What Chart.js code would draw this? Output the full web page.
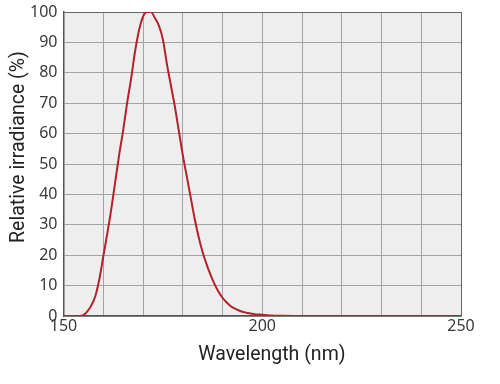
<!DOCTYPE html>
<html>
<head>
<meta charset="utf-8">
<script src="https://cdn.jsdelivr.net/npm/chart.js@4/dist/chart.umd.min.js"></script>
<style>
  html, body { margin: 0; padding: 0; background: #fff; }
  #wrap { width: 500px; height: 384px; }
</style>
</head>
<body>
<div id="wrap"><canvas id="irrChart" width="500" height="384"></canvas></div>
<script>
// wavelength (nm) and relative irradiance (%)
const wavelengths = [150, 152, 154, 155, 156, 157, 158, 159, 160, 161, 162, 163, 164, 165, 166, 167, 168, 169, 170, 171,
    172, 173, 174, 175, 176, 177, 178, 179, 180, 181, 182, 183, 184, 185, 186, 187, 188, 189, 190, 191,
    192, 193, 194, 195, 196, 197, 198, 200, 202, 205, 210, 250];
const irradiance = [0, 0, 0, 0.3, 1.5, 3.5, 6.5, 12, 19.5, 27, 35, 44, 53, 61, 70, 78, 87, 94, 98.5, 100,
    100, 98, 95.5, 91, 83, 76, 69, 61, 53, 46, 39, 32, 26, 21, 17, 13.5, 10.5, 8, 6, 4.5,
    3.3, 2.5, 1.9, 1.4, 1.1, 0.8, 0.6, 0.4, 0.2, 0.05, 0, 0];
const xLabels = [150, 200, 250];

const tickFont = { family: 'Noto Sans', size: 16 };
const titleFont = { family: 'Roboto', size: 19.5 };

// grey plot background
const plotBg = {
    id: 'plotBg',
    beforeDraw(chart) {
        const { ctx, chartArea: a } = chart;
        ctx.save();
        ctx.fillStyle = '#eeeeee';
        ctx.fillRect(a.left, a.top, a.right - a.left, a.bottom - a.top);
        ctx.restore();
    }
};

new Chart(document.getElementById('irrChart'), {
    type: 'line',
    data: {
        datasets: [{
            data: wavelengths.map((w, i) => ({ x: w, y: irradiance[i] })),
            borderColor: '#b3202e',
            borderWidth: 2,
            pointRadius: 0,
            tension: 0.4,
            cubicInterpolationMode: 'monotone',
            fill: false
        }]
    },
    options: {
        responsive: false,
        animation: false,
        layout: { padding: { left: 0, right: 39, top: 12, bottom: 0 } },
        plugins: {
            legend: { display: false },
            tooltip: { enabled: false }
        },
        scales: {
            x: {
                type: 'linear',
                min: 150,
                max: 250,
                ticks: {
                    stepSize: 10,
                    color: '#3a3a3a',
                    font: tickFont,
                    maxRotation: 0,
                    autoSkip: false,
                    padding: 1,
                    callback: v => xLabels.includes(v) ? v : ''
                },
                grid: {
                    color: ctx => ctx.tick && ctx.tick.value === 250 ? '#666' : '#a3a3a3',
                    lineWidth: 1,
                    drawTicks: false
                },
                border: { color: '#555', width: 1.5 },
                title: {
                    display: true,
                    text: '    Wavelength (nm)',
                    color: '#222',
                    font: titleFont,
                    padding: { top: 4, bottom: 17 }
                },
                afterFit: s => { s.height = 68; s.paddingLeft = 0; s.paddingRight = 0; }
            },
            y: {
                min: 0,
                max: 100,
                ticks: {
                    stepSize: 10,
                    color: '#3a3a3a',
                    font: tickFont,
                    padding: 6
                },
                grid: {
                    color: ctx => ctx.tick && ctx.tick.value === 100 ? '#666' : '#a3a3a3',
                    lineWidth: 1,
                    drawTicks: false
                },
                border: { color: '#555', width: 1.5 },
                title: {
                    display: true,
                    text: '       Relative irradiance (%)',
                    color: '#222',
                    font: titleFont,
                    padding: { top: 7, bottom: 4 }
                },
                afterFit: s => { s.width = 63.5; s.paddingTop = 0; s.paddingBottom = 0; }
            }
        }
    },
    plugins: [plotBg]
});
</script>
</body>
</html>
